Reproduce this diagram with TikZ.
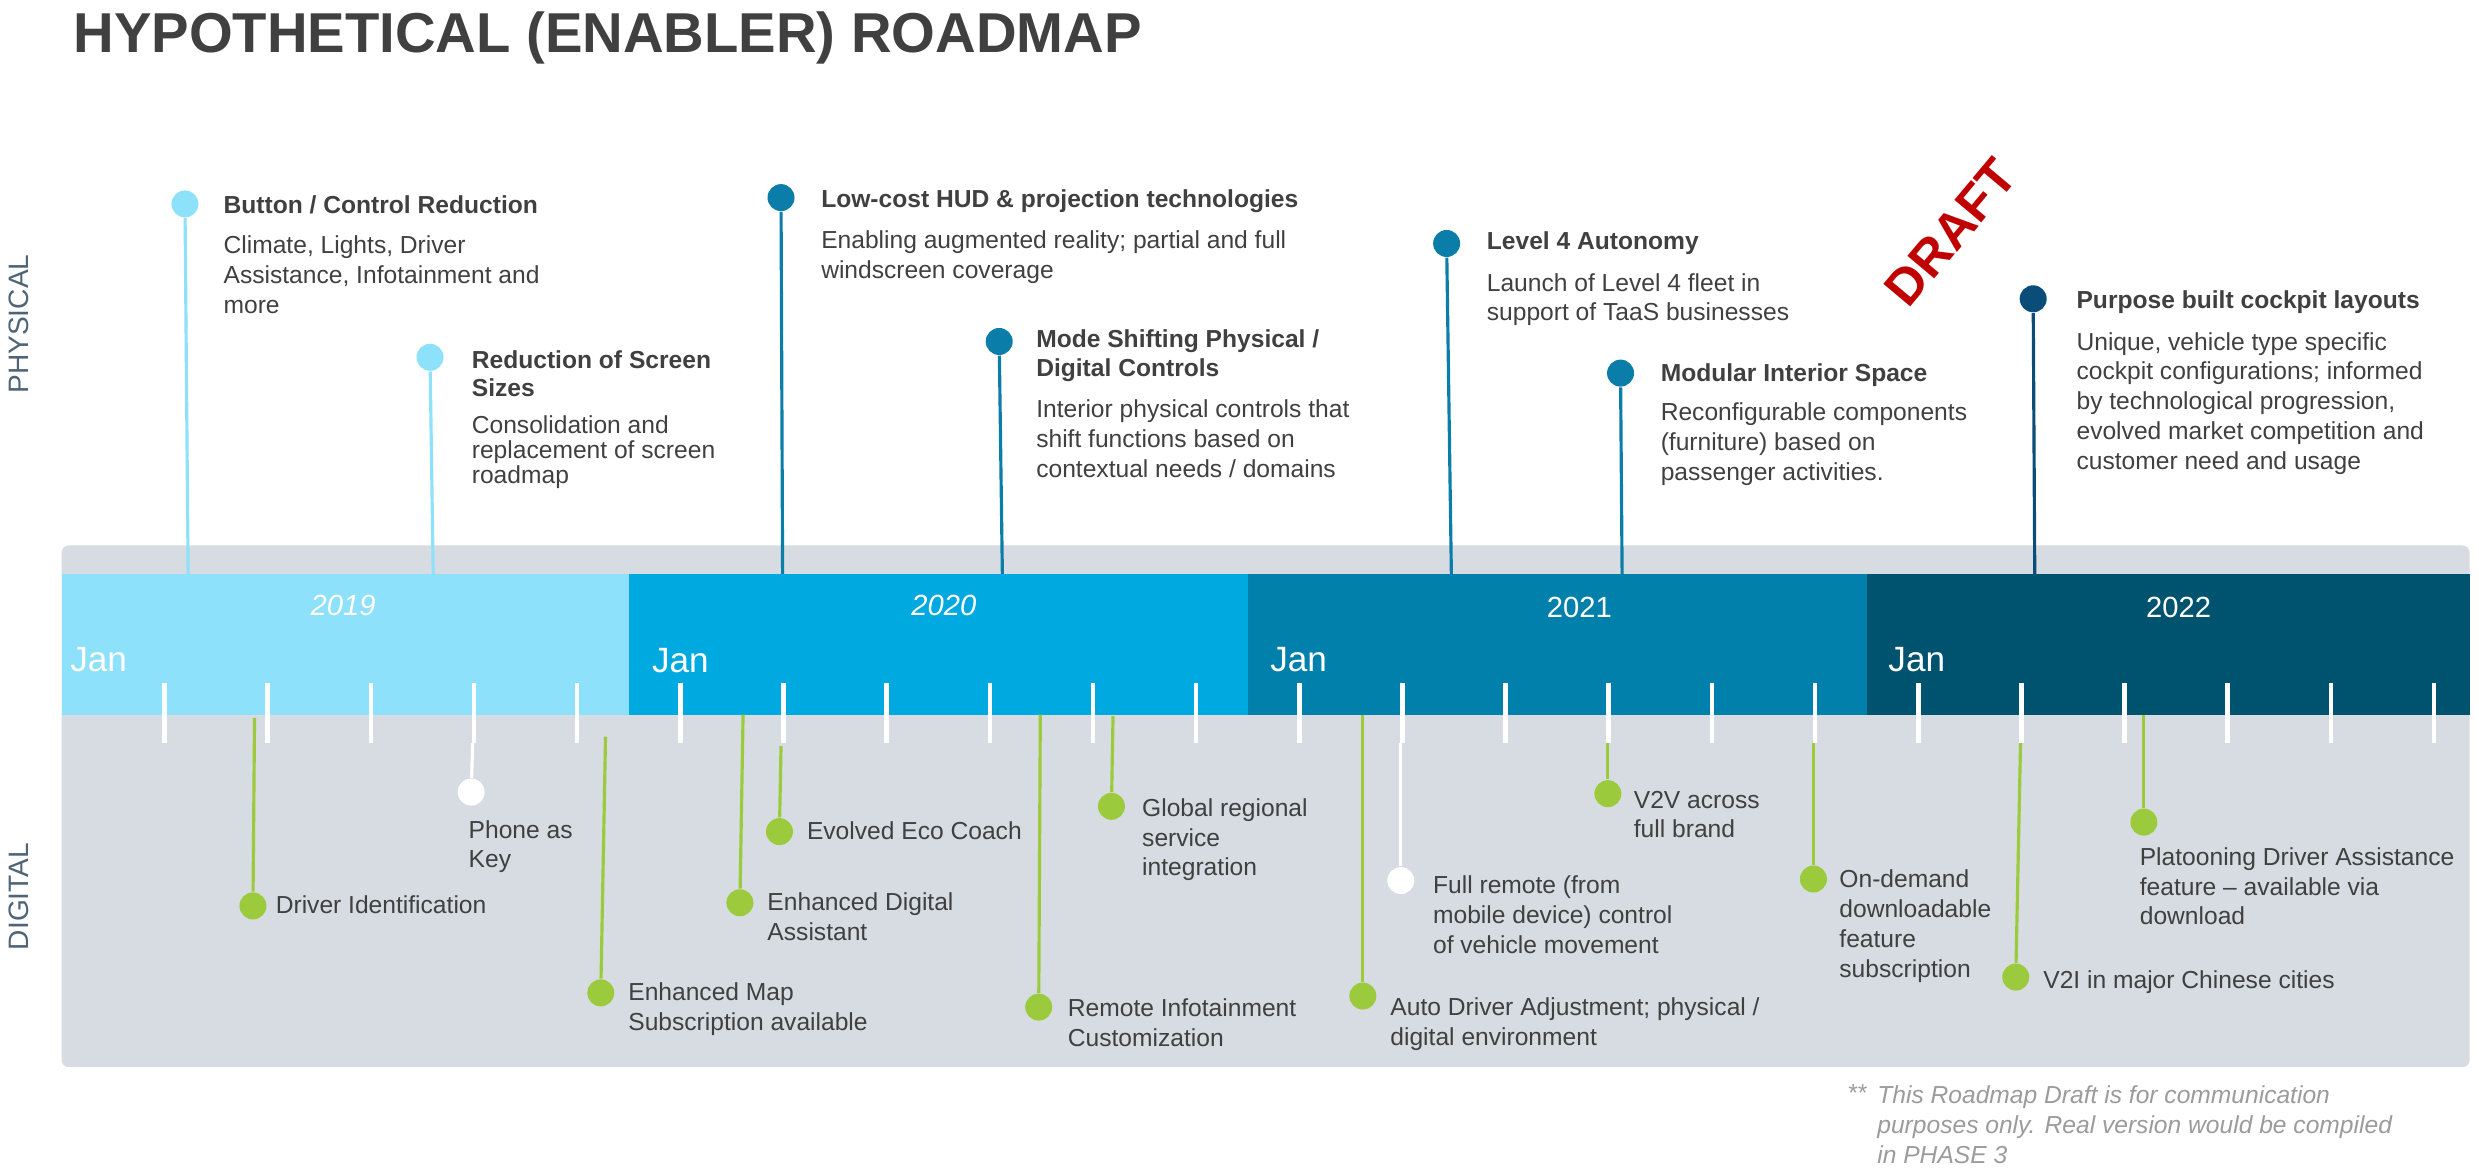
\documentclass[tikz,border=0pt]{standalone}
\usepackage{fontspec}
\setmainfont{Liberation Sans}
\usepackage{tikz}
\usetikzlibrary{positioning}

\definecolor{txt}{HTML}{404040}
\definecolor{band}{HTML}{D6DCE1}
\definecolor{yrA}{HTML}{8EE1FA}
\definecolor{yrB}{HTML}{00A9E0}
\definecolor{yrC}{HTML}{0080AB}
\definecolor{yrD}{HTML}{00536F}
\definecolor{teal}{HTML}{0A7DA8}
\definecolor{navy}{HTML}{0B4D79}
\definecolor{leaf}{HTML}{9BCB3C}
\definecolor{side}{HTML}{4F6476}
\definecolor{stamp}{HTML}{C00000}
\definecolor{note}{HTML}{9B9B9B}

\begin{document}
\begin{tikzpicture}[
    x=0.1581mm, y=-0.1581mm,
    dot/.style={circle, inner sep=0pt, minimum size=2.7mm},
    stem/.style={line width=0.9pt},
    tick/.style={white, line width=1.3pt},
    head/.style={font=\bfseries\fontsize{7}{8.1}\selectfont, text=txt,
                 align=left, anchor=base west, inner sep=0pt},
    body/.style={font=\fontsize{7}{8.5}\selectfont, text=txt,
                 align=left, anchor=base west, inner sep=0pt},
    yearlbl/.style={font=\fontsize{8.3}{10}\selectfont, text=white, inner sep=0pt},
    janlbl/.style={font=\fontsize{10}{12}\selectfont, text=white,
                   anchor=west, inner sep=0pt},
    sidelbl/.style={font=\fontsize{8}{10}\selectfont, text=side, rotate=90, inner sep=0pt}
]
\useasboundingbox (0,0) rectangle (1568,743);

% Title
\node[font=\bfseries\fontsize{16}{19}\selectfont, text=txt, anchor=base west, inner sep=0pt]
    (title) at (46,33) {HYPOTHETICAL (ENABLER) ROADMAP};

% Band and year bar
\fill[band, rounded corners=2pt] (39,345) rectangle (1562,675);
\fill[yrA] (39,363) rectangle (397.7,452);
\fill[yrB] (397.7,363) rectangle (789.2,452);
\fill[yrC] (789.2,363) rectangle (1180.7,452);
\fill[yrD] (1180.7,363) rectangle (1562,452);

\node[yearlbl, font=\itshape\fontsize{8.3}{10}\selectfont] (y19) at (217,383) {2019};
\node[yearlbl, font=\itshape\fontsize{8.3}{10}\selectfont] (y20) at (597,383) {2020};
\node[yearlbl] (y21) at (999,384) {2021};
\node[yearlbl] (y22) at (1378,384) {2022};

\node[janlbl] (j19) at (44,417) {Jan};
\node[janlbl] (j20) at (412,418) {Jan};
\node[janlbl] (j21) at (803,417) {Jan};
\node[janlbl] (j22) at (1194,417) {Jan};

\foreach \k in {1,...,23}
    \draw[tick] ({38.8+65.25*\k},432) -- ({38.8+65.25*\k},470);

% Side labels
\node[sidelbl] (phys) at (12,205) {PHYSICAL};
\node[sidelbl] (digi) at (12,567) {DIGITAL};

% Physical milestones
\node[dot, fill=yrA] (d1) at (117,129) {};
\node[dot, fill=yrA] (d2) at (272,226) {};
\node[dot, fill=teal] (d3) at (494,125) {};
\node[dot, fill=teal] (d4) at (632,216) {};
\node[dot, fill=teal] (d5) at (915,154) {};
\node[dot, fill=teal] (d6) at (1025,236) {};
\node[dot, fill=navy] (d7) at (1286,189) {};

\coordinate (p1) at (119,363);
\coordinate (p2) at (274,363);
\coordinate (p3) at (495,363);
\coordinate (p4) at (634,363);
\coordinate (p5) at (918,363);
\coordinate (p6) at (1026,363);
\coordinate (p7) at (1287,363);

\draw[stem, yrA] (d1) -- (p1);
\draw[stem, yrA] (d2) -- (p2);
\draw[stem, teal] (d3) -- (p3);
\draw[stem, teal] (d4) -- (p4);
\draw[stem, teal] (d5) -- (p5);
\draw[stem, teal] (d6) -- (p6);
\draw[stem, navy] (d7) -- (p7);

% text nodes sit on the baseline of their last line
\node[head] (h1) at (141,135) {Button / Control Reduction};
\node[body] (b1) at (141,198) {Climate, Lights, Driver\\Assistance, Infotainment and\\more};
\node[head] (h2) at (298,251) {Reduction of Screen\\Sizes};
\node[body, font=\fontsize{7}{7.1}\selectfont] (b2) at (298,306) {Consolidation and\\replacement of screen\\roadmap};
\node[head] (h3) at (519,131) {Low-cost HUD \& projection technologies};
\node[body] (b3) at (519,176) {Enabling augmented reality; partial and full\\windscreen coverage};
\node[head] (h4) at (655,238) {Mode Shifting Physical /\\Digital Controls};
\node[body] (b4) at (655,302) {Interior physical controls that\\shift functions based on\\contextual needs / domains};
\node[head] (h5) at (940,158) {Level 4 Autonomy};
\node[body] (b5) at (940,203) {Launch of Level 4 fleet in\\support of TaaS businesses};
\node[head] (h6) at (1050,241) {Modular Interior Space};
\node[body] (b6) at (1050,304) {Reconfigurable components\\(furniture) based on\\passenger activities.};
\node[head] (h7) at (1313,195) {Purpose built cockpit layouts};
\node[body] (b7) at (1313,297) {Unique, vehicle type specific\\cockpit configurations; informed\\by technological progression,\\evolved market competition and\\customer need and usage};

% Digital milestones
\coordinate (q1) at (161,454);
\coordinate (q2) at (299,470);
\coordinate (q3) at (383,466);
\coordinate (q4) at (470,452);
\coordinate (q5) at (494,472);
\coordinate (q6) at (658,452);
\coordinate (q7) at (704,453);
\coordinate (q8) at (862,452);
\coordinate (q9) at (886,470);
\coordinate (q10) at (1017,470);
\coordinate (q11) at (1147,470);
\coordinate (q12) at (1278,470);
\coordinate (q13) at (1356,452);

\node[dot, fill=leaf] (e1) at (160,573) {};
\node[dot, fill=white] (e2) at (298,501) {};
\node[dot, fill=leaf] (e3) at (380,628) {};
\node[dot, fill=leaf] (e4) at (468,571) {};
\node[dot, fill=leaf] (e5) at (493,526) {};
\node[dot, fill=leaf] (e6) at (657,637) {};
\node[dot, fill=leaf] (e7) at (703,510) {};
\node[dot, fill=leaf] (e8) at (862,630) {};
\node[dot, fill=white] (e9) at (886,557) {};
\node[dot, fill=leaf] (e10) at (1017,502) {};
\node[dot, fill=leaf] (e11) at (1147,556) {};
\node[dot, fill=leaf] (e12) at (1275,618) {};
\node[dot, fill=leaf] (e13) at (1356,520) {};

\draw[stem, leaf] (q1) -- (e1);
\draw[stem, white] (q2) -- (e2);
\draw[stem, leaf] (q3) -- (e3);
\draw[stem, leaf] (q4) -- (e4);
\draw[stem, leaf] (q5) -- (e5);
\draw[stem, leaf] (q6) -- (e6);
\draw[stem, leaf] (q7) -- (e7);
\draw[stem, leaf] (q8) -- (e8);
\draw[stem, white] (q9) -- (e9);
\draw[stem, leaf] (q10) -- (e10);
\draw[stem, leaf] (q11) -- (e11);
\draw[stem, leaf] (q12) -- (e12);
\draw[stem, leaf] (q13) -- (e13);

\node[body] (t1) at (174,578) {Driver Identification};
\node[body] (t2) at (296,549) {Phone as\\Key};
\node[body] (t3) at (397,652) {Enhanced Map\\Subscription available};
\node[body] (t4) at (485,595) {Enhanced Digital\\Assistant};
\node[body] (t5) at (510,531) {Evolved Eco Coach};
\node[body] (t6) at (675,662) {Remote Infotainment\\Customization};
\node[body] (t7) at (722,554) {Global regional\\service\\integration};
\node[body] (t8) at (879,661) {Auto Driver Adjustment; physical /\\digital environment};
\node[body] (t9) at (906,603) {Full remote (from\\mobile device) control\\of vehicle movement};
\node[body] (t10) at (1033,530) {V2V across\\full brand};
\node[body] (t11) at (1163,618) {On-demand\\downloadable\\feature\\subscription};
\node[body] (t12) at (1292,625) {V2I in major Chinese cities};
\node[body] (t13) at (1353,585) {Platooning Driver Assistance\\feature -- available via\\download};

% Stamp and footnote
\node[font=\bfseries\fontsize{14.5}{17}\selectfont, text=stamp, rotate=50, inner sep=0pt]
    (draft) at (1234,147) {DRAFT};
\node[body, text=note, font=\itshape\fontsize{7}{8.5}\selectfont] (star) at (1168,697) {**};
\node[body, text=note, font=\itshape\fontsize{7}{8.5}\selectfont] (fn) at (1187,736)
    {This Roadmap Draft is for communication\\purposes only. Real version would be compiled\\in PHASE 3};

\end{tikzpicture}
\end{document}
